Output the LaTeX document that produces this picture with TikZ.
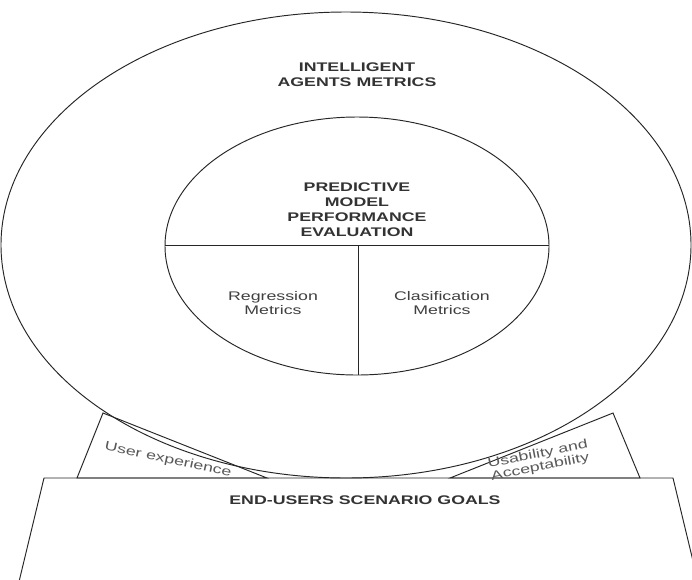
\documentclass[tikz,border=0pt]{standalone}
\usepackage{fontspec}
\setmainfont{Liberation Sans}
\newfontfamily\wf[FakeStretch=1.42]{Liberation Sans}
\begin{document}
\begin{tikzpicture}[x=1pt,y=-1pt,
  ln/.style={draw=black!85,line width=0.95pt},
  head/.style={font=\wf\fontsize{12.5}{15}\selectfont\bfseries,text=black!80,align=center},
  lbl/.style={font=\wf\fontsize{12.5}{14.5}\selectfont,text=black!75,align=center},
  side/.style={font=\wf\fontsize{12.5}{13}\selectfont,text=black!65,align=center}]
\useasboundingbox (0,0) rectangle (692,579);
\fill[white] (0,0) rectangle (692,579);
% side shapes
\draw[ln] (103,413) -- (77,478) -- (267,478) -- cycle;
\draw[ln] (613,413) -- (640,478) -- (450,478) -- cycle;
% bottom trapezoid
\draw[ln] (17,590) -- (44,478) -- (673,478) -- (700,590);
% outer ellipse
\draw[ln] (346,245) ellipse [x radius=345, y radius=233];
% inner ellipse
\draw[ln] (357,246) ellipse [x radius=192, y radius=129];
\coordinate (hl) at (165,245);
\coordinate (hr) at (549,245);
\coordinate (vt) at (358,245);
\coordinate (vb) at (358,375);
\draw[ln] (hl) -- (hr);
\draw[ln] (vt) -- (vb);
% texts
\node[head] (iam) at (357,75) {INTELLIGENT\\AGENTS METRICS};
\node[head] (pmpe) at (357,210) {PREDICTIVE\\MODEL\\PERFORMANCE\\EVALUATION};
\node[lbl] (reg) at (273,303) {Regression\\Metrics};
\node[lbl] (cls) at (442,303) {Clasification\\Metrics};
\node[head] (eusg) at (365,500) {END-USERS SCENARIO GOALS};
\node[side,rotate=-12] (ux) at (168,460) {User experience};
\node[side,rotate=11] (ua) at (539,461) {Usability and\\Acceptability};
\end{tikzpicture}
\end{document}
